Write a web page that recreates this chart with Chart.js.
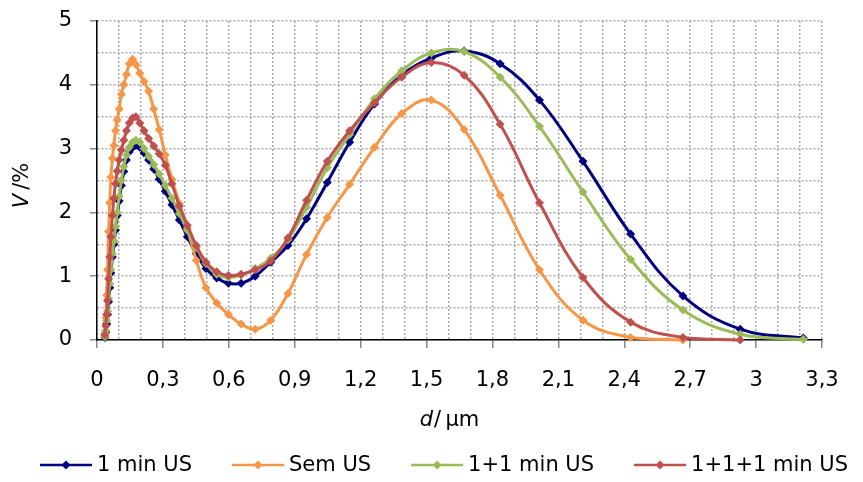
<!DOCTYPE html>
<html>
<head>
<meta charset="utf-8">
<script src="https://cdn.jsdelivr.net/npm/chart.js@4.4.1/dist/chart.umd.min.js"></script>
<style>
  html, body { margin: 0; padding: 0; background: #fff; }
  #wrap { width: 863px; height: 482px; }
</style>
</head>
<body>
<div id="wrap"><canvas id="chart" width="863" height="482"></canvas></div>
<script>
// diâmetro (µm) das classes de tamanho
const diametros = [0.036, 0.040, 0.044, 0.048, 0.053, 0.058, 0.063, 0.070, 0.077, 0.084,
  0.092, 0.101, 0.111, 0.122, 0.134, 0.147, 0.162, 0.177, 0.195, 0.214,
  0.235, 0.258, 0.283, 0.311, 0.341, 0.375, 0.411, 0.452, 0.496, 0.545,
  0.598, 0.656, 0.720, 0.791, 0.869, 0.954, 1.048, 1.150, 1.263, 1.387,
  1.522, 1.671, 1.835, 2.014, 2.212, 2.429, 2.667, 2.928, 3.215];

// volume (%) por série
const umMinUS = [0.04, 0.12, 0.25, 0.40, 0.60, 0.82, 1.05, 1.30, 1.50, 1.72,
  1.95, 2.18, 2.42, 2.64, 2.82, 2.95, 3.02, 3.05, 3.02, 2.93,
  2.82, 2.68, 2.52, 2.33, 2.12, 1.88, 1.62, 1.35, 1.12, 0.97,
  0.89, 0.89, 1.00, 1.22, 1.48, 1.90, 2.47, 3.10, 3.70, 4.15,
  4.42, 4.53, 4.33, 3.76, 2.80, 1.66, 0.69, 0.17, 0.03];
const semUS = [0.10, 0.35, 0.70, 1.10, 1.70, 2.15, 2.55, 2.85, 3.05, 3.28,
  3.45, 3.62, 3.85, 4.00, 4.16, 4.33, 4.40, 4.32, 4.18, 4.05,
  3.90, 3.62, 3.30, 2.90, 2.52, 2.14, 1.75, 1.25, 0.82, 0.58,
  0.40, 0.25, 0.17, 0.31, 0.73, 1.34, 1.92, 2.44, 3.02, 3.55,
  3.76, 3.30, 2.27, 1.10, 0.31, 0.04, 0.00, null, null];
const doisMinUS = [0.05, 0.15, 0.30, 0.45, 0.65, 0.88, 1.10, 1.35, 1.55, 1.78,
  2.00, 2.25, 2.50, 2.72, 2.90, 3.02, 3.10, 3.13, 3.10, 3.00,
  2.88, 2.75, 2.60, 2.42, 2.22, 1.98, 1.72, 1.45, 1.20, 1.03,
  0.98, 1.02, 1.12, 1.28, 1.57, 2.08, 2.70, 3.22, 3.78, 4.22,
  4.50, 4.52, 4.12, 3.35, 2.32, 1.26, 0.47, 0.09, 0.01];
const tresMinUS = [0.08, 0.22, 0.40, 0.62, 0.96, 1.30, 1.62, 1.95, 2.22, 2.45,
  2.65, 2.82, 2.98, 3.13, 3.28, 3.40, 3.48, 3.50, 3.40, 3.28,
  3.16, 3.04, 2.92, 2.74, 2.45, 2.10, 1.80, 1.48, 1.22, 1.07,
  1.01, 1.03, 1.10, 1.24, 1.60, 2.19, 2.80, 3.28, 3.72, 4.12,
  4.35, 4.15, 3.38, 2.15, 0.98, 0.28, 0.04, 0.00, null];

const nomes = ['1 min US', 'Sem US', '1+1 min US', '1+1+1 min US'];
const cores = ['#000080', '#F79646', '#9BBB59', '#C0504D'];
const series = [umMinUS, semUS, doisMinUS, tresMinUS];

// ticks
const xMin = 0, xMax = 3.3, xPasso = 0.1, xRotulo = 0.3;
const yMin = 0, yMax = 5, yPasso = 0.5;

const FONTE = '"DejaVu Sans", sans-serif';
const TAM = 21;

function virgula(v) {
  return String(Math.round(v * 10) / 10).replace('.', ',');
}

const datasets = series.map((s, i) => ({
  label: nomes[i],
  data: diametros.map((d, k) => ({ x: d, y: s[k] })).filter(p => p.y !== null),
  borderColor: cores[i],
  backgroundColor: cores[i],
  borderWidth: 3,
  pointStyle: 'rectRot',
  pointRadius: 4.5,
  pointBorderWidth: 0,
  tension: 0.4,
  clip: 10,
  order: [4, 3, 2, 1][i]
}));

// títulos dos eixos (parte em itálico) e legenda com linha + losango
const extras = {
  id: 'extras',
  afterDraw(chart) {
    const ctx = chart.ctx;
    const a = chart.chartArea;
    const it = 'italic ' + TAM + 'px ' + FONTE;
    const nm = TAM + 'px ' + FONTE;
    ctx.save();
    ctx.fillStyle = '#000';
    ctx.textBaseline = 'middle';
    ctx.textAlign = 'left';

    // eixo x: d/µm
    ctx.font = it; const w1 = ctx.measureText('d').width;
    ctx.font = nm; const w2 = ctx.measureText('/\u2009µm').width;
    let x0 = 449 - (w1 + w2) / 2;
    ctx.font = it; ctx.fillText('d', x0, 421);
    ctx.font = nm; ctx.fillText('/\u2009µm', x0 + w1 + 1, 421);

    // legenda
    ctx.font = nm;
    const larg = chart.data.datasets.map(ds => ctx.measureText(ds.label).width);
    const total = larg.reduce((s, w) => s + w + 57, 0) + 40 * (larg.length - 1);
    let lx = 444 - total / 2;
    const ly = 465;
    chart.data.datasets.forEach((ds, i) => {
      ctx.strokeStyle = ds.borderColor;
      ctx.lineWidth = 2.5;
      ctx.beginPath(); ctx.moveTo(lx, ly); ctx.lineTo(lx + 52, ly); ctx.stroke();
      ctx.fillStyle = ds.borderColor;
      ctx.beginPath();
      ctx.moveTo(lx + 26, ly - 4.5); ctx.lineTo(lx + 30.5, ly);
      ctx.lineTo(lx + 26, ly + 4.5); ctx.lineTo(lx + 21.5, ly);
      ctx.closePath(); ctx.fill();
      ctx.fillStyle = '#000';
      ctx.fillText(ds.label, lx + 57, ly + 1);
      lx += 57 + larg[i] + 40;
    });

    // eixo y: V/%
    ctx.translate(23, (a.top + a.bottom) / 2 + 5);
    ctx.rotate(-Math.PI / 2);
    ctx.font = it; const v1 = ctx.measureText('V').width;
    ctx.font = nm; const v2 = ctx.measureText('\u2009/%').width;
    x0 = -(v1 + v2) / 2;
    ctx.fillStyle = '#000';
    ctx.font = it; ctx.fillText('V', x0, 0);
    ctx.font = nm; ctx.fillText('\u2009/%', x0 + v1, 0);
    ctx.restore();
  }
};

const grade = '#ABABAB';

new Chart(document.getElementById('chart'), {
  type: 'line',
  data: { datasets },
  plugins: [extras],
  options: {
    responsive: false,
    devicePixelRatio: 1,
    animation: false,
    layout: { padding: { left: 0, right: 41, top: 21, bottom: 42 } },
    plugins: {
      tooltip: { enabled: false },
      legend: { display: false }
    },
    scales: {
      x: {
        type: 'linear',
        min: xMin, max: xMax,
        afterFit: (scale) => { scale.height = 100; },
        ticks: {
          stepSize: xPasso,
          autoSkip: false,
          maxRotation: 0,
          padding: 20,
          color: '#000',
          font: { family: FONTE, size: TAM },
          callback: (v) => (Math.round(v * 10) % Math.round(xRotulo * 10) === 0 ? virgula(v) : '')
        },
        grid: {
          color: grade,
          lineWidth: 1.5,
          tickLength: 8,
          tickWidth: 1.5,
          tickBorderDash: [],
          tickColor: (c) => (c.tick && Math.round(c.tick.value * 10) % 3 === 0 ? '#888' : 'rgba(0,0,0,0)')
        },
        border: { display: true, color: '#000', width: 1.5, dash: [2, 2] }
      },
      y: {
        min: yMin, max: yMax,
        afterFit: (scale) => {
          scale.width = 97;
          scale.paddingTop = 0;
          scale.paddingBottom = 0;
        },
        ticks: {
          stepSize: yPasso,
          padding: 18,
          color: '#000',
          font: { family: FONTE, size: TAM },
          callback: (v) => (v % 1 === 0 ? virgula(v) : '')
        },
        grid: {
          color: grade,
          lineWidth: 1.5,
          tickLength: 7,
          tickWidth: 1.5,
          tickBorderDash: [],
          tickColor: (c) => (c.tick && c.tick.value % 1 === 0 ? '#888' : 'rgba(0,0,0,0)')
        },
        border: { display: true, color: '#000', width: 1.5, dash: [2, 2] }
      }
    }
  }
});
</script>
</body>
</html>
